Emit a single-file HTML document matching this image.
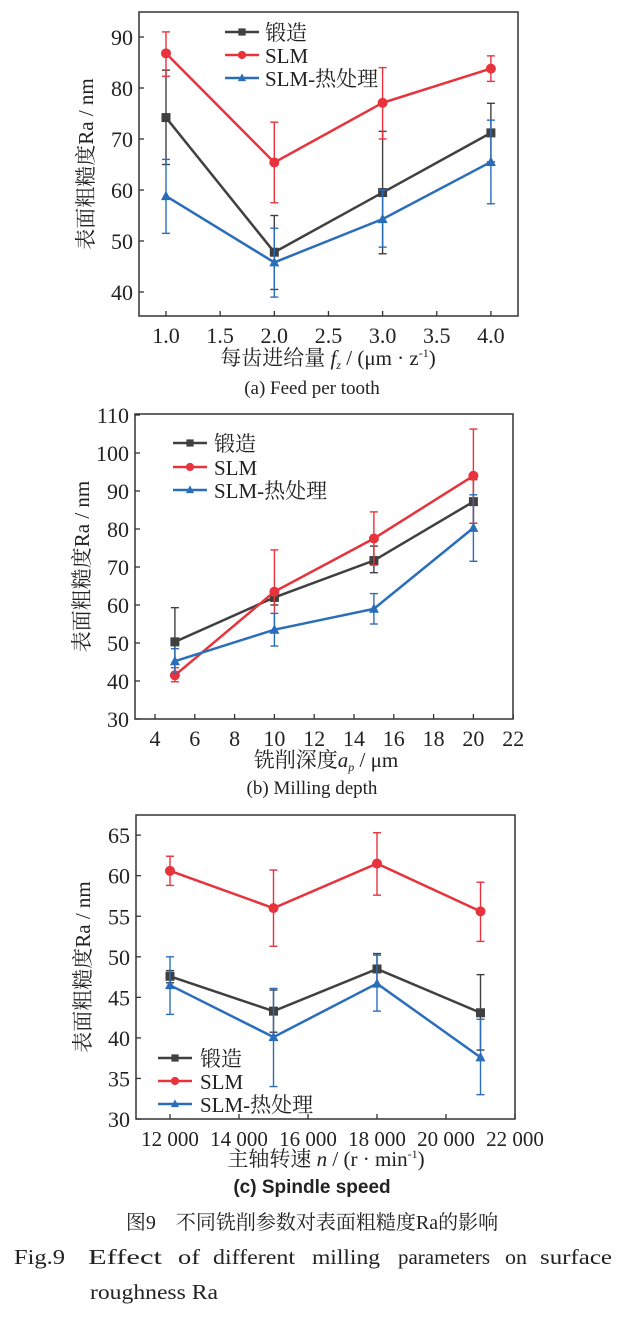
<!DOCTYPE html>
<html><head><meta charset="utf-8"><style>
body{margin:0;background:#fff;width:624px;height:1312px;overflow:hidden}
svg text{font-family:"Liberation Serif","Noto Serif CJK SC",serif;fill:#222}
</style></head><body>
<svg id="s" width="624" height="1312" xmlns="http://www.w3.org/2000/svg"></svg>
<script>
const S=document.getElementById('s');let h='';
const C=['#404040','#e8323c','#2a6ebb'];
function chart(c){
 const X=v=>c.x0+(v-c.xa)*c.xs, Y=v=>c.y0-(v-c.ya)*c.ys;
 h+=`<rect x="${c.L}" y="${c.T}" width="${c.R-c.L}" height="${c.B-c.T}" fill="none" stroke="#333" stroke-width="1.5"/>`;
 c.yt.forEach(v=>{h+=`<line x1="${c.L}" x2="${c.L+5}" y1="${Y(v)}" y2="${Y(v)}" stroke="#333" stroke-width="1.3"/><text x="${c.L-6}" y="${Y(v)+8}" font-size="22" text-anchor="end">${v}</text>`});
 c.xt.forEach(v=>{h+=`<line x1="${X(v)}" x2="${X(v)}" y1="${c.B}" y2="${c.B-5}" stroke="#333" stroke-width="1.3"/><text x="${X(v)}" y="${c.B+27}" font-size="${c.xfs||22}" text-anchor="middle">${c.xf?c.xf(v):v}</text>`});
 c.d.forEach((s,i)=>{
  s.forEach(p=>{h+=`<g stroke="${C[i]}" stroke-width="1.4"><line x1="${X(p[0])}" x2="${X(p[0])}" y1="${Y(p[2])}" y2="${Y(p[3])}"/><line x1="${X(p[0])-4}" x2="${X(p[0])+4}" y1="${Y(p[2])}" y2="${Y(p[2])}"/><line x1="${X(p[0])-4}" x2="${X(p[0])+4}" y1="${Y(p[3])}" y2="${Y(p[3])}"/></g>`});
  h+=`<polyline fill="none" stroke="${C[i]}" stroke-width="2.5" points="${s.map(p=>X(p[0])+','+Y(p[1])).join(' ')}"/>`;
  s.forEach(p=>h+=mk(i,X(p[0]),Y(p[1])));
 });
 const nm=['锻造','SLM','SLM-热处理'];
 c.lg[2].forEach((y,i)=>{h+=`<line x1="${c.lg[0]}" x2="${c.lg[0]+34}" y1="${y}" y2="${y}" stroke="${C[i]}" stroke-width="2.5"/>`+mk(i,c.lg[0]+17,y,0.8)+`<text x="${c.lg[1]}" y="${y+8}" font-size="21">${nm[i]}</text>`});
 h+=`<text transform="translate(${c.L-46},${(c.T+c.B)/2}) rotate(-90)" font-size="21" text-anchor="middle">表面粗糙度Ra / nm</text>`;
}
function mk(i,x,y,k=1){const r=4.5*k;
 if(i==0)return `<rect x="${x-r}" y="${y-r}" width="${2*r}" height="${2*r}" fill="${C[0]}"/>`;
 if(i==1)return `<circle cx="${x}" cy="${y}" r="${r+0.5}" fill="${C[1]}"/>`;
 return `<polygon points="${x},${y-r-1} ${x-r-0.5},${y+r-0.5} ${x+r+0.5},${y+r-0.5}" fill="${C[2]}"/>`;}
chart({L:139,R:518,T:12,B:316,x0:166,xa:1,xs:108.3,y0:292,ya:40,ys:5.1,
 yt:[40,50,60,70,80,90],xt:[1,1.5,2,2.5,3,3.5,4],xf:v=>v.toFixed(1),
 d:[[[1,74.2,65,83.5],[2,47.8,40.5,55],[3,59.5,47.5,71.5],[4,71.2,65.5,77]],
    [[1,86.8,82.3,91],[2,65.4,57.5,73.3],[3,77.1,70,84],[4,83.8,81.3,86.3]],
    [[1,58.8,51.5,66],[2,45.8,39,52.5],[3,54.3,48.8,60],[4,65.5,57.3,73.7]]],
 lg:[225,265,[32,55,78]]});
chart({L:135,R:513,T:414,B:719,x0:155,xa:4,xs:19.9,y0:719,ya:30,ys:3.8,
 yt:[30,40,50,60,70,80,90,100,110],xt:[4,6,8,10,12,14,16,18,20,22],
 d:[[[5,50.3,41.5,59.3],[10,62,60,63.5],[15,71.7,68.5,75.5],[20,87.2,81.5,93]],
    [[5,41.5,39.8,43.5],[10,63.5,52.8,74.5],[15,77.5,70.5,84.5],[20,94,81.5,106.3]],
    [[5,45.2,42,48.5],[10,53.5,49.2,57.8],[15,59,55,63],[20,80.3,71.5,89]]],
 lg:[173,214,[443,467,490]]});
chart({L:136,R:515,T:815,B:1119,x0:170,xa:12,xs:34.5,y0:1119,ya:30,ys:8.11,xfs:21,
 yt:[30,35,40,45,50,55,60,65],xt:[12,14,16,18,20,22],xf:v=>v+' 000',
 d:[[[12,47.6,46.8,48.3],[15,43.3,40.7,45.9],[18,48.5,46.5,50.4],[21,43.1,38.5,47.8]],
    [[12,60.6,58.8,62.4],[15,56,51.3,60.7],[18,61.5,57.6,65.3],[21,55.6,51.9,59.2]],
    [[12,46.5,42.9,50],[15,40.1,34,46.1],[18,46.7,43.3,50.2],[21,37.6,33,42.3]]],
 lg:[158,200,[1058,1081,1104]]});
h+=`<text x="328" y="365" font-size="21" text-anchor="middle">每齿进给量 <tspan font-style="italic">f</tspan><tspan font-size="12" font-style="italic" dy="4">z</tspan><tspan dy="-4"> / (μm · z</tspan><tspan font-size="12" dy="-8">-1</tspan><tspan dy="8">)</tspan></text>`;
h+=`<text x="312" y="394" font-size="19" text-anchor="middle">(a) Feed per tooth</text>`;
h+=`<text x="326" y="767" font-size="21" text-anchor="middle">铣削深度<tspan font-style="italic">a</tspan><tspan font-size="12" font-style="italic" dy="4">p</tspan><tspan dy="-4"> / μm</tspan></text>`;
h+=`<text x="312" y="794" font-size="19" text-anchor="middle">(b) Milling depth</text>`;
h+=`<text x="326" y="1166" font-size="21" text-anchor="middle">主轴转速 <tspan font-style="italic">n</tspan> / (r · min<tspan font-size="12" dy="-8">-1</tspan><tspan dy="8">)</tspan></text>`;
h+=`<text x="312" y="1193" font-size="19" text-anchor="middle" font-weight="bold" style="font-family:'Liberation Sans',sans-serif">(c) Spindle speed</text>`;
h+=`<text x="312" y="1229" font-size="20" text-anchor="middle">图9　不同铣削参数对表面粗糙度Ra的影响</text>`;
[['Fig.9',14,51],['Effect',88,74],['of',178,22],['different',213,82],['milling',312,68],['parameters',398,92],['on',505,22],['surface',540,72]].forEach(w=>h+=`<text x="${w[1]}" y="1264" font-size="21" textLength="${w[2]}" lengthAdjust="spacingAndGlyphs">${w[0]}</text>`);
h+=`<text x="90" y="1299" font-size="21" textLength="128" lengthAdjust="spacingAndGlyphs">roughness Ra</text>`;
S.innerHTML=h;
</script>
</body></html>
